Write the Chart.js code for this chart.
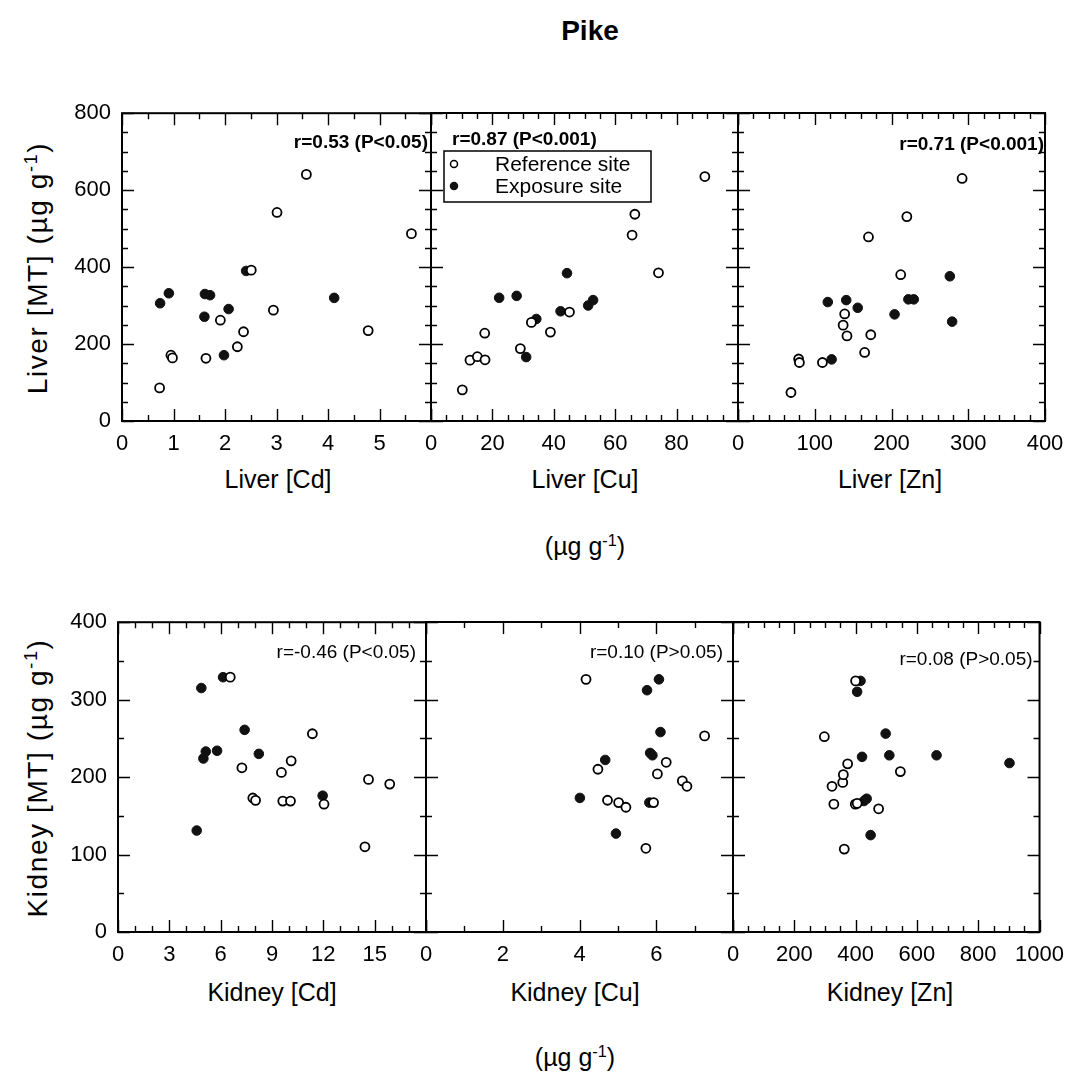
<!DOCTYPE html>
<html>
<head>
<meta charset="utf-8">
<script src="https://cdn.jsdelivr.net/npm/chart.js@4.4.1/dist/chart.umd.min.js"></script>
<style>
  body { margin: 0; background: #fff; }
  #wrap { position: relative; width: 1080px; height: 1080px; font-family: "Liberation Sans", Arial, sans-serif; color: #000; overflow: hidden; }
  #wrap canvas { position: absolute; }
  .txt { position: absolute; white-space: nowrap; transform: translate(-50%, -50%); font-size: 25px; }
  .rot { transform: translate(-50%, -50%) rotate(-90deg); font-size: 28px; letter-spacing: 1.6px; }
  sup { font-size: 0.65em; vertical-align: 0.55em; line-height: 0; }
</style>
</head>
<body>
<div id="wrap">
  <div class="txt" style="left:590px;top:31px;font-size:28px;font-weight:bold;">Pike</div>
  <div class="txt rot" style="left:38px;top:268px;">Liver [MT] (µg g<sup>-1</sup>)</div>
  <div class="txt rot" style="left:38px;top:778px;">Kidney [MT] (µg g<sup>-1</sup>)</div>
  <div class="txt" style="left:278px;top:479px;">Liver [Cd]</div>
  <div class="txt" style="left:585px;top:479px;">Liver [Cu]</div>
  <div class="txt" style="left:585px;top:546px;">(µg g<sup>-1</sup>)</div>
  <div class="txt" style="left:890px;top:479px;">Liver [Zn]</div>
  <div class="txt" style="left:272px;top:992px;">Kidney [Cd]</div>
  <div class="txt" style="left:575px;top:992px;">Kidney [Cu]</div>
  <div class="txt" style="left:575px;top:1057px;">(µg g<sup>-1</sup>)</div>
  <div class="txt" style="left:890px;top:992px;">Kidney [Zn]</div>
</div>
<script>
// Data: [x, y] pairs, x = metal conc., y = MT conc. (µg g-1)
const liverCdRef = [[0.73,86],[0.95,171],[0.98,164],[1.63,163],[1.91,262],[2.24,193],[2.36,232],[2.51,392],[2.94,288],[3.01,542],[3.58,641],[4.78,235],[5.62,487]];
const liverCdExp = [[0.74,306],[0.91,332],[1.60,271],[1.61,330],[1.71,327],[1.98,171],[2.07,291],[2.41,390],[4.12,320]];

const liverCuRef = [[10.2,81],[12.7,158],[15.1,167],[17.6,159],[17.5,228],[29.1,188],[32.7,256],[38.9,231],[45.1,283],[65.5,483],[66.4,537],[74.1,385],[89.2,635]];
const liverCuExp = [[22.2,320],[27.9,325],[31.0,166],[34.3,265],[42.2,285],[44.3,384],[51.2,300],[52.8,314]];

const liverZnRef = [[69,74],[79,161],[80,152],[110,152],[137,249],[139,278],[142,221],[165,178],[170,478],[173,224],[212,380],[220,531],[292,630]];
const liverZnExp = [[117,309],[122,160],[141,314],[156,294],[204,277],[222,316],[229,316],[276,376],[279,258]];

const kidneyCdRef = [[6.56,329],[7.24,212],[7.88,173],[8.04,170],[9.55,206],[9.63,169],[10.08,169],[10.12,221],[11.36,256],[12.04,165],[14.43,110],[14.64,197],[15.88,191]];
const kidneyCdExp = [[4.60,131],[4.87,315],[4.99,224],[5.13,233],[5.79,234],[6.14,329],[7.40,261],[8.23,230],[11.96,176]];

const kidneyCuRef = [[4.17,326],[4.48,210],[4.73,170],[5.02,167],[5.21,161],[5.73,108],[5.93,167],[6.03,204],[6.26,219],[6.68,195],[6.80,188],[7.26,253]];
const kidneyCuExp = [[4.01,173],[4.67,222],[4.95,127],[5.76,312],[5.82,167],[5.84,231],[5.90,228],[6.07,326],[6.11,258]];

const kidneyZnRef = [[298,252],[323,188],[329,165],[358,193],[360,203],[363,107],[374,217],[399,165],[400,324],[405,166],[475,159],[546,207]];
const kidneyZnExp = [[405,310],[416,324],[421,226],[427,169],[436,172],[449,125],[498,256],[510,228],[664,228],[902,218]];

// Correlation labels
const rLabels = ['r=0.53 (P<0.05)', 'r=0.87 (P<0.001)', 'r=0.71 (P<0.001)', 'r=-0.46 (P<0.05)', 'r=0.10 (P>0.05)', 'r=0.08 (P>0.05)'];
const seriesNames = ['Reference site', 'Exposure site'];

const FONT = '"Liberation Sans", Arial, sans-serif';
const PAD_L = 70, PAD_R = 32, PAD_T = 24, PAD_B = 45;

// Panel layout: box on page + axis ranges
const panels = [
    { box: [122, 113, 309, 308], x: [0, 6, 1, 0.5], y: [0, 800, 200, 50], yLabels: true,  hideLast: true,  ref: liverCdRef,  exp: liverCdExp,  r: 0, bold: true, rAlign: 'right', rDx: -3, rDy: 30 },
    { box: [431, 113, 307, 308], x: [0, 100, 20, 5], y: [0, 800, 200, 50], yLabels: false, hideLast: true,  ref: liverCuRef,  exp: liverCuExp,  r: 1, bold: true, rAlign: 'left',  rDx: 21, rDy: 27, legend: true },
    { box: [738, 113, 307, 308], x: [0, 400, 100, 20], y: [0, 800, 200, 50], yLabels: false, hideLast: false, ref: liverZnRef,  exp: liverZnExp,  r: 2, bold: true, rAlign: 'right', rDx: -1, rDy: 32 },
    { box: [118, 622, 308, 310], x: [0, 18, 3, 1], y: [0, 400, 100, 50], yLabels: true,  hideLast: true,  ref: kidneyCdRef, exp: kidneyCdExp, r: 3, bold: false, rAlign: 'right', rDx: -10, rDy: 31 },
    { box: [426, 622, 307, 310], x: [0, 8, 2, 1], y: [0, 400, 100, 50], yLabels: false, hideLast: true,  ref: kidneyCuRef, exp: kidneyCuExp, r: 4, bold: false, rAlign: 'right', rDx: -10, rDy: 31 },
    { box: [733, 622, 309, 310], x: [0, 1000, 200, 50], y: [0, 400, 100, 50], yLabels: false, hideLast: false, ref: kidneyZnRef, exp: kidneyZnExp, r: 5, bold: false, rAlign: 'right', rDx: -7, rDy: 38 }
];

const isMajor = (v, step) => Math.abs(v / step - Math.round(v / step)) < 1e-6;

// Frame, inner ticks, r label and legend
const decoPlugin = {
    id: 'deco',
    beforeDatasetsDraw(chart, args, opts) {
        const ctx = chart.ctx, ca = chart.chartArea;
        const xs = chart.scales.x, ys = chart.scales.y;
        ctx.save();
        ctx.strokeStyle = '#000';
        ctx.lineWidth = 1.4;
        ctx.beginPath();
        for (let v = xs.min; v <= xs.max + 1e-9; v += opts.xMinor) {
            const px = Math.round(xs.getPixelForValue(v)) + 0.5;
            const len = isMajor(v, opts.xMajor) ? 12 : 6;
            ctx.moveTo(px, ca.bottom); ctx.lineTo(px, ca.bottom - len);
            ctx.moveTo(px, ca.top); ctx.lineTo(px, ca.top + len);
        }
        for (let v = ys.min; v <= ys.max + 1e-9; v += opts.yMinor) {
            const py = Math.round(ys.getPixelForValue(v)) + 0.5;
            const len = isMajor(v, opts.yMajor) ? 12 : 6;
            ctx.moveTo(ca.left, py); ctx.lineTo(ca.left + len, py);
            ctx.moveTo(ca.right, py); ctx.lineTo(ca.right - len, py);
        }
        ctx.stroke();
        ctx.lineWidth = 2;
        ctx.strokeRect(ca.left, ca.top, ca.right - ca.left, ca.bottom - ca.top);
        ctx.restore();
    },
    afterDatasetsDraw(chart, args, opts) {
        const ctx = chart.ctx, ca = chart.chartArea;
        ctx.save();
        ctx.fillStyle = '#000';
        ctx.font = (opts.bold ? 'bold ' : '') + '19px ' + FONT;
        ctx.textBaseline = 'middle';
        ctx.textAlign = opts.rAlign;
        const tx = opts.rAlign === 'right' ? ca.right + opts.rDx : ca.left + opts.rDx;
        ctx.fillText(opts.rText, tx, ca.top + opts.rDy);

        if (opts.legend) {
            const lx = ca.left + 13, ly = ca.top + 38;
            ctx.fillStyle = '#fff';
            ctx.fillRect(lx, ly, 207, 51);
            ctx.strokeStyle = '#000';
            ctx.lineWidth = 1.5;
            ctx.strokeRect(lx, ly, 207, 51);
            ctx.font = '21px ' + FONT;
            ctx.textAlign = 'left';
            chart.data.datasets.forEach((ds, i) => {
                const cy = ly + 13 + i * 22;
                ctx.beginPath();
                ctx.arc(lx + 10, cy, 3.5, 0, Math.PI * 2);
                ctx.fillStyle = ds.pointBackgroundColor;
                ctx.fill();
                ctx.lineWidth = 1.5;
                ctx.strokeStyle = ds.pointBorderColor;
                ctx.stroke();
                ctx.fillStyle = '#000';
                ctx.fillText(ds.label, lx + 51, cy + 1);
            });
        }
        ctx.restore();
    }
};

const toPoints = (arr) => arr.map(([x, y]) => ({ x, y }));

const createPanel = (p) => {
    const [left, top, w, h] = p.box;
    const canvas = document.createElement('canvas');
    canvas.width = PAD_L + w + PAD_R;
    canvas.height = PAD_T + h + PAD_B;
    canvas.style.left = (left - PAD_L) + 'px';
    canvas.style.top = (top - PAD_T) + 'px';
    document.getElementById('wrap').appendChild(canvas);

    const [xMin, xMax, xMajor, xMinor] = p.x;
    const [yMin, yMax, yMajor, yMinor] = p.y;

    new Chart(canvas.getContext('2d'), {
        type: 'scatter',
        data: {
            datasets: [
                {
                    label: seriesNames[0],
                    data: toPoints(p.ref),
                    pointRadius: 4.5,
                    pointBackgroundColor: '#fff',
                    pointBorderColor: '#000',
                    pointBorderWidth: 1.8
                },
                {
                    label: seriesNames[1],
                    data: toPoints(p.exp),
                    pointRadius: 4.8,
                    pointBackgroundColor: '#111',
                    pointBorderColor: '#111',
                    pointBorderWidth: 1
                }
            ]
        },
        options: {
            responsive: false,
            animation: false,
            devicePixelRatio: 1,
            events: [],
            layout: { padding: { left: 0, right: PAD_R, top: PAD_T, bottom: 0 } },
            plugins: {
                legend: { display: false },
                tooltip: { enabled: false },
                deco: {
                    xMajor, xMinor, yMajor, yMinor,
                    rText: rLabels[p.r], bold: p.bold, rAlign: p.rAlign, rDx: p.rDx, rDy: p.rDy,
                    legend: !!p.legend
                }
            },
            scales: {
                x: {
                    type: 'linear',
                    min: xMin, max: xMax,
                    grid: { display: false, drawTicks: false },
                    border: { display: false },
                    ticks: {
                        stepSize: xMajor,
                        autoSkip: false,
                        maxRotation: 0,
                        padding: 10,
                        color: '#000',
                        font: { family: FONT, size: 22 },
                        callback: (v) => (p.hideLast && v === xMax) ? '' : String(v)
                    },
                    afterFit: (s) => { s.height = PAD_B; }
                },
                y: {
                    type: 'linear',
                    min: yMin, max: yMax,
                    grid: { display: false, drawTicks: false },
                    border: { display: false },
                    ticks: {
                        display: p.yLabels,
                        stepSize: yMajor,
                        padding: 11,
                        color: '#000',
                        font: { family: FONT, size: 22 }
                    },
                    afterFit: (s) => { s.width = PAD_L; }
                }
            }
        },
        plugins: [decoPlugin]
    });
};

panels.forEach(createPanel);
</script>
</body>
</html>
